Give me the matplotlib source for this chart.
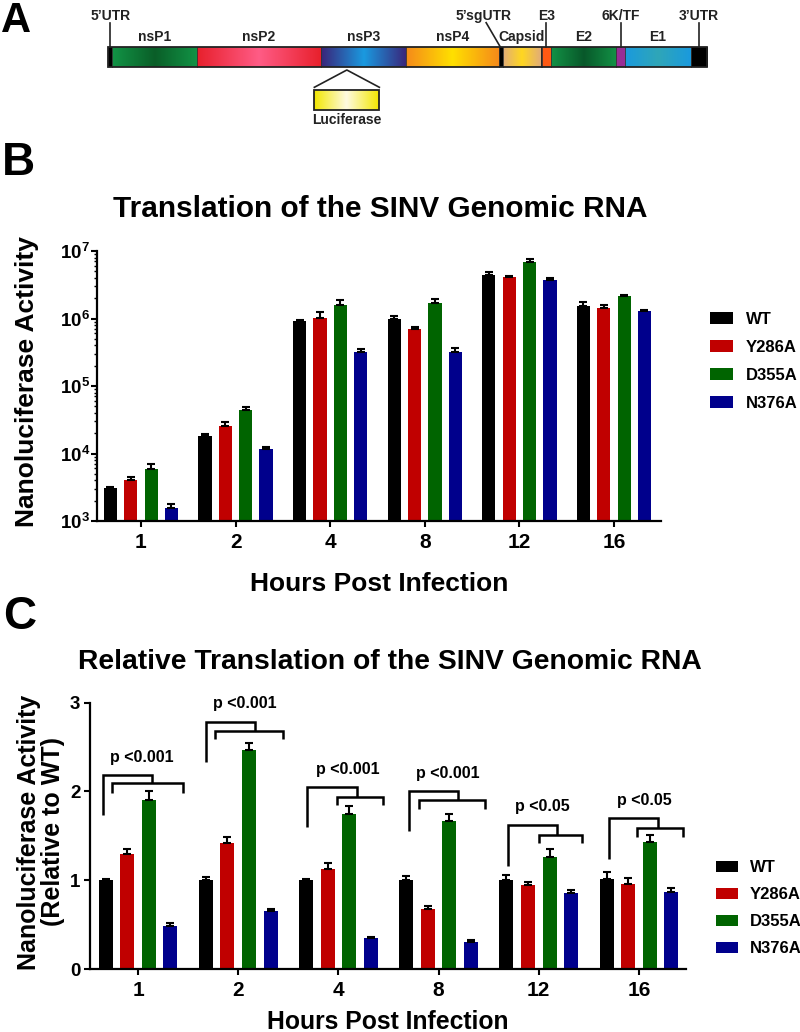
import numpy as np
import matplotlib
matplotlib.use('Agg')
import matplotlib.pyplot as plt
from matplotlib.colors import LinearSegmentedColormap
from matplotlib.patches import Rectangle, Patch
from matplotlib.ticker import LogLocator, FuncFormatter, NullFormatter

plt.rcParams['font.family'] = ['Liberation Sans', 'DejaVu Sans']
plt.rcParams['font.weight'] = 'bold'
plt.rcParams['mathtext.fontset'] = 'custom'
plt.rcParams['mathtext.rm'] = 'Liberation Sans:bold'
plt.rcParams['mathtext.bf'] = 'Liberation Sans:bold'
plt.rcParams['mathtext.it'] = 'Liberation Sans:bold'

# ---------------- data ----------------
hours = ['1', '2', '4', '8', '12', '16']
strains = ['WT', 'Y286A', 'D355A', 'N376A']
bar_colors = ['#000000', '#C00000', '#006400', '#00008C']

# Panel B: absolute nanoluciferase activity (mean, upper SEM)
wt_abs = [3100, 18200, 920000, 1000000, 4370000, 1510000]
y286a_abs = [4050, 25500, 1030000, 700000, 4070000, 1440000]
d355a_abs = [5830, 44000, 1580000, 1710000, 6870000, 2130000]
n376a_abs = [1540, 11800, 322000, 316000, 3760000, 1290000]
wt_abs_err = [100, 1300, 20000, 100000, 520000, 240000]
y286a_abs_err = [480, 3800, 220000, 59000, 130000, 130000]
d355a_abs_err = [1150, 4300, 300000, 210000, 730000, 120000]
n376a_abs_err = [230, 500, 31000, 50000, 260000, 60000]

# Panel C: relative to WT
wt_rel = [1.0, 1.0, 1.0, 1.0, 1.0, 1.013]
y286a_rel = [1.30, 1.415, 1.123, 0.679, 0.942, 0.957]
d355a_rel = [1.906, 2.47, 1.745, 1.67, 1.261, 1.434]
n376a_rel = [0.488, 0.653, 0.353, 0.308, 0.856, 0.863]
wt_rel_err = [0.01, 0.033, 0.01, 0.047, 0.055, 0.083]
y286a_rel_err = [0.05, 0.068, 0.074, 0.03, 0.034, 0.064]
d355a_rel_err = [0.094, 0.075, 0.091, 0.072, 0.09, 0.078]
n376a_rel_err = [0.027, 0.019, 0.011, 0.018, 0.037, 0.053]

p_labels = ['p <0.001', 'p <0.001', 'p <0.001', 'p <0.001', 'p <0.05', 'p <0.05']

# Panel A: SINV genome segments (relative lengths)
seg_names = ["5'UTR", 'nsP1', 'nsP2', 'nsP3', 'nsP4', "5'sgUTR", 'Capsid', 'sep',
             'E3', 'E2', '6K/TF', 'E1', "3'UTR"]
seg_lengths = [4, 85, 123.4, 85.3, 93, 4.3, 37.4, 1.3, 8.7, 65.3, 9, 65.7, 16.6]

# ---------------- layout / style ----------------
W, H = 800, 1032
fig = plt.figure(figsize=(8, 10.32), dpi=100)

def fx(px):
    return px / W

def fy(py):
    return 1 - py / H

pitch = 0.215
bw = 0.14
offsets = [(-1.5 + i) * pitch for i in range(4)]
xpos = np.arange(len(hours))

# ---------------- Panel A ----------------
seg_colors = {
    "5'UTR": ('#000000', '#000000'),
    'nsP1': ('#129446', '#0a5e28'),
    'nsP2': ('#e8202c', '#ff5c86'),
    'nsP3': ('#3a2479', '#1a9ae0'),
    'nsP4': ('#f58a1a', '#ffe000'),
    "5'sgUTR": ('#000000', '#000000'),
    'Capsid': ('#e2ad78', '#ffd720'),
    'sep': ('#000000', '#000000'),
    'E3': ('#ff5a14', '#ff5a14'),
    'E2': ('#139246', '#08582a'),
    '6K/TF': ('#982e96', '#982e96'),
    'E1': ('#1a9ade', '#2fa6b8'),
    "3'UTR": ('#000000', '#000000'),
}
bar_left_px = 108.3
axA = fig.add_axes([0, fy(140), 1, 140 / H])
axA.set_xlim(-bar_left_px, W - bar_left_px)
axA.set_ylim(140, 0)
axA.axis('off')
y_top, y_bot = 46.7, 66.7
grad = np.linspace(0, 1, 256)[None, :]
starts = np.concatenate([[0], np.cumsum(seg_lengths)[:-1]])
mids = {}
for name, s, L in zip(seg_names, starts, seg_lengths):
    edge, center = seg_colors[name]
    cmap = LinearSegmentedColormap.from_list(name, [edge, center, edge])
    axA.imshow(grad, cmap=cmap, extent=(s, s + L, y_bot, y_top), aspect='auto',
               interpolation='bilinear', zorder=1)
    mids[name] = s + L / 2
total = float(np.sum(seg_lengths))
axA.add_patch(Rectangle((0, y_top), total, y_bot - y_top, fill=False, ec='#222222', lw=1.3, zorder=3))
for name, s in zip(seg_names[1:], starts[1:]):
    axA.plot([s, s], [y_top, y_bot], color='#333333', lw=0.6, zorder=2)

lab_font = dict(family=['Liberation Sans Narrow', 'Liberation Sans'], fontweight='bold',
                fontsize=10, color='#222222')
for name in ['nsP1', 'nsP2', 'nsP3', 'nsP4', 'Capsid', 'E2', 'E1']:
    axA.text(mids[name], 37, name, ha='center', va='center', **lab_font)
for name in ["5'UTR", 'E3', '6K/TF', "3'UTR"]:
    axA.text(mids[name], 16, name.replace("'", "\u2019"), ha='center', va='center', **lab_font)
    axA.plot([mids[name], mids[name]], [22.7, y_top], color='#222222', lw=1.2)
axA.text(mids["5'sgUTR"] - 18, 16, "5\u2019sgUTR", ha='center', va='center', **lab_font)
axA.plot([mids["5'sgUTR"] - 15, mids["5'sgUTR"] - 1], [22.7, y_top], color='#222222', lw=1.2)

# Luciferase inset
luc_c = mids['nsP3'] - 16.5
luc_w = 65
axA.plot([luc_c - luc_w / 2, luc_c, luc_c + luc_w / 2], [87.3, 70, 87.3], color='#222222', lw=1.2)
lcmap = LinearSegmentedColormap.from_list('luc', ['#f2e600', '#fffbe0', '#f2e600'])
axA.imshow(grad, cmap=lcmap, extent=(luc_c - luc_w / 2, luc_c + luc_w / 2, 110, 90),
           aspect='auto', interpolation='bilinear', zorder=1)
axA.add_patch(Rectangle((luc_c - luc_w / 2, 90), luc_w, 20, fill=False, ec='#222222', lw=1.3, zorder=3))
axA.text(luc_c, 120, 'Luciferase', ha='center', va='center', **lab_font)

fig.text(fx(1), fy(32), 'A', fontsize=30, fontweight='bold', ha='left', va='baseline')
fig.text(fx(2), fy(175), 'B', fontsize=33, fontweight='bold', ha='left', va='baseline')
fig.text(fx(3), fy(629), 'C', fontsize=33, fontweight='bold', ha='left', va='baseline')

# ---------------- shared styling ----------------
def style_axes(ax, ytick_pad):
    for s in ['top', 'right']:
        ax.spines[s].set_visible(False)
    for s in ['left', 'bottom']:
        ax.spines[s].set_linewidth(1.6)
    ax.tick_params(axis='x', which='major', length=4, width=1.5, labelsize=15, pad=5)
    ax.tick_params(axis='y', which='major', length=4, width=1.5, labelsize=13.5, pad=ytick_pad)
    ax.tick_params(axis='y', which='minor', length=2.2, width=1.0)
    ax.tick_params(axis='x', which='minor', length=0)

handles = [Patch(facecolor=c, edgecolor='none') for c in bar_colors]
leg_fs = 12

# ---------------- Panel B ----------------
axB = fig.add_axes([fx(97), fy(521), fx(661) - fx(97), (521 - 251) / H])
abs_vals = [wt_abs, y286a_abs, d355a_abs, n376a_abs]
abs_errs = [wt_abs_err, y286a_abs_err, d355a_abs_err, n376a_abs_err]
for i in range(4):
    axB.bar(xpos + offsets[i], abs_vals[i], width=bw, color=bar_colors[i], zorder=2)
    axB.errorbar(xpos + offsets[i], abs_vals[i],
                 yerr=[np.zeros(len(hours)), abs_errs[i]],
                 fmt='none', ecolor='black', elinewidth=1.5, capsize=2.7, capthick=1.5, zorder=3)
axB.set_yscale('log')
axB.set_ylim(1e3, 1e7)
axB.set_xlim(-0.465, 5.497)
axB.yaxis.set_major_locator(LogLocator(base=10, numticks=10))
axB.yaxis.set_minor_locator(LogLocator(base=10, subs=np.arange(2, 10), numticks=20))
axB.yaxis.set_minor_formatter(NullFormatter())
axB.yaxis.set_major_formatter(FuncFormatter(lambda v, p: r'$\mathbf{10^{%d}}$' % round(np.log10(v))))
axB.set_xticks(xpos)
axB.set_xticklabels(hours)
style_axes(axB, 1)

fig.text(fx(380), fy(216.7), 'Translation of the SINV Genomic RNA', fontsize=21.4,
         fontweight='bold', ha='center', va='baseline')
fig.text(fx(27), fy(382), 'Nanoluciferase Activity', fontsize=19, fontweight='bold',
         rotation=90, ha='center', va='center')
fig.text(fx(379), fy(591), 'Hours Post Infection', fontsize=19, fontweight='bold',
         ha='center', va='baseline')
fig.legend(handles, strains, loc='center left', bbox_to_anchor=(fx(710), fy(361.5)),
           frameon=False, fontsize=leg_fs, handlelength=1.38, handleheight=0.72,
           handletextpad=0.75, labelspacing=0.78, borderpad=0, borderaxespad=0)

# ---------------- Panel C ----------------
axC = fig.add_axes([fx(90), fy(969), fx(686) - fx(90), (969 - 702.7) / H])
rel_vals = [wt_rel, y286a_rel, d355a_rel, n376a_rel]
rel_errs = [wt_rel_err, y286a_rel_err, d355a_rel_err, n376a_rel_err]
for i in range(4):
    axC.bar(xpos + offsets[i], rel_vals[i], width=bw, color=bar_colors[i], zorder=2)
    axC.errorbar(xpos + offsets[i], rel_vals[i],
                 yerr=[np.zeros(len(hours)), rel_errs[i]],
                 fmt='none', ecolor='black', elinewidth=1.5, capsize=2.7, capthick=1.5, zorder=3)
axC.set_ylim(0, 3)
axC.set_xlim(-0.48, 5.47)
axC.set_yticks([0, 1, 2, 3])
axC.set_xticks(xpos)
axC.set_xticklabels(hours)
style_axes(axC, 3)

# significance brackets (annotation layout, relative to group centre)
br_outer_l = [-0.346, -0.32, -0.31, -0.30, -0.31, -0.30]
br_outer_r = [0.143, 0.17, 0.19, 0.19, 0.18, 0.19]
br_inner_l = [-0.262, -0.23, -0.01, -0.20, 0.0, -0.02]
br_inner_r = [0.451, 0.45, 0.45, 0.46, 0.43, 0.44]
br_outer_y = [2.19, 2.78, 2.05, 2.0, 1.62, 1.70]
br_inner_y = [2.09, 2.68, 1.94, 1.90, 1.51, 1.59]
br_inner_b = [1.98, 2.59, 1.85, 1.80, 1.42, 1.49]
br_outer_b = [1.73, 2.33, 1.60, 1.56, 1.16, 1.24]
br_text_x = [0.04, 0.07, 0.09, 0.09, 0.04, 0.05]
br_text_y = [2.335, 2.935, 2.195, 2.155, 1.775, 1.845]
blw = 1.8
for g in range(len(hours)):
    c = xpos[g]
    axC.plot([c + br_outer_l[g], c + br_outer_l[g], c + br_outer_r[g], c + br_outer_r[g]],
             [br_outer_b[g], br_outer_y[g], br_outer_y[g], br_inner_y[g]],
             color='black', lw=blw, solid_joinstyle='miter', solid_capstyle='butt', clip_on=False)
    axC.plot([c + br_inner_l[g], c + br_inner_l[g], c + br_inner_r[g], c + br_inner_r[g]],
             [br_inner_b[g], br_inner_y[g], br_inner_y[g], br_inner_b[g]],
             color='black', lw=blw, solid_joinstyle='miter', solid_capstyle='butt', clip_on=False)
    axC.text(c + br_text_x[g], br_text_y[g], p_labels[g], ha='center', va='baseline',
             fontsize=11.5, fontweight='bold', clip_on=False)

fig.text(fx(390), fy(669.3), 'Relative Translation of the SINV Genomic RNA', fontsize=20.3,
         fontweight='bold', ha='center', va='baseline')
fig.text(fx(41), fy(832), 'Nanoluciferase Activity\n(Relative to WT)', fontsize=18,
         fontweight='bold', rotation=90, ha='center', va='center', multialignment='center',
         linespacing=1.0)
fig.text(fx(388), fy(1029), 'Hours Post Infection', fontsize=17.8, fontweight='bold',
         ha='center', va='baseline')
fig.legend(handles, strains, loc='center left', bbox_to_anchor=(fx(716), fy(908.3)),
           frameon=False, fontsize=leg_fs, handlelength=1.32, handleheight=0.72,
           handletextpad=0.7, labelspacing=0.72, borderpad=0, borderaxespad=0)

fig.savefig('out.png', dpi=100)
